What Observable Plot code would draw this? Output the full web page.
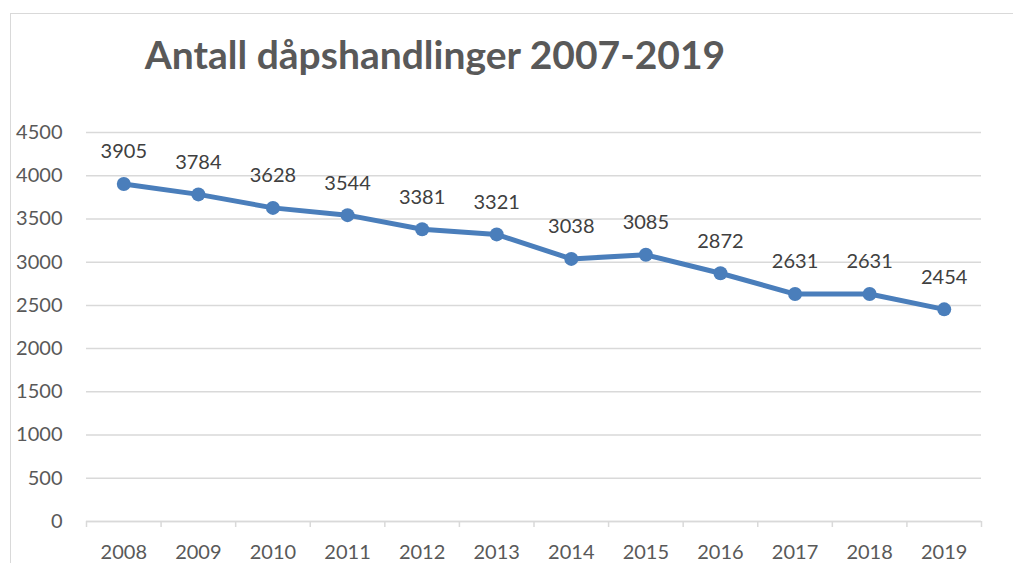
<!DOCTYPE html>
<html>
<head>
<meta charset="utf-8">
<script src="https://cdn.jsdelivr.net/npm/d3@7"></script>
<script src="https://cdn.jsdelivr.net/npm/@observablehq/plot@0.6"></script>
<style>
  html, body { margin: 0; padding: 0; background: #fff; width: 1013px; height: 563px; overflow: hidden; }
  #frame { position: absolute; left: 10px; top: 13px; width: 1100px; height: 700px; border: 1.5px solid #d9d9d9; box-sizing: border-box; }
  #title { position: absolute; left: 0; width: 870px; top: 31px; text-align: center; font-family: Lato, sans-serif; font-weight: bold; font-size: 39px; color: #595959; white-space: nowrap; }
  #chart { position: absolute; left: 0; top: 0; }
</style>
</head>
<body>
<div id="frame"></div>
<div id="title">Antall dåpshandlinger 2007-2019</div>
<div id="chart"></div>
<script>
const years = [2008, 2009, 2010, 2011, 2012, 2013, 2014, 2015, 2016, 2017, 2018, 2019];
const values = [3905, 3784, 3628, 3544, 3381, 3321, 3038, 3085, 2872, 2631, 2631, 2454];
const yTicks = [0, 500, 1000, 1500, 2000, 2500, 3000, 3500, 4000, 4500];
const bandEdges = [2007.5, 2008.5, 2009.5, 2010.5, 2011.5, 2012.5, 2013.5, 2014.5, 2015.5, 2016.5, 2017.5, 2018.5, 2019.5];

const data = years.map((y, i) => ({year: y, value: values[i]}));

const plot = Plot.plot({
  width: 1013,
  height: 563,
  marginLeft: 86,
  marginRight: 32,
  marginTop: 132,
  marginBottom: 42,
  style: {fontFamily: "Lato, sans-serif", fontSize: "20px", background: "transparent", overflow: "visible"},
  x: {domain: [2007.5, 2019.5]},
  y: {domain: [0, 4500]},
  marks: [
    Plot.gridY(yTicks, {stroke: "#d9d9d9", strokeOpacity: 1, strokeWidth: 1.5}),
    Plot.axisY(yTicks, {tickSize: 0, tickPadding: 24, tickFormat: d => String(d), fill: "#595959", fontSize: 20, label: null}),
    Plot.ruleY([0], {stroke: "#d9d9d9", strokeWidth: 1.5}),
    Plot.axisX(bandEdges, {tickSize: 6, tickFormat: () => "", stroke: "#d9d9d9", strokeWidth: 1.5, strokeOpacity: 1, label: null}),
    Plot.axisX(years, {tickSize: 0, tickPadding: 23, tickFormat: d => String(d), fill: "#595959", fontSize: 20, label: null}),
    Plot.line(data, {x: "year", y: "value", stroke: "#4a7ebb", strokeWidth: 5, strokeLinejoin: "round"}),
    Plot.dot(data, {x: "year", y: "value", r: 7, fill: "#4a7ebb", stroke: "none"}),
    Plot.text(data, {x: "year", y: "value", text: d => String(d.value), dy: -32, fill: "#404040", fontSize: 20})
  ]
});
document.getElementById("chart").appendChild(plot);
</script>
</body>
</html>
